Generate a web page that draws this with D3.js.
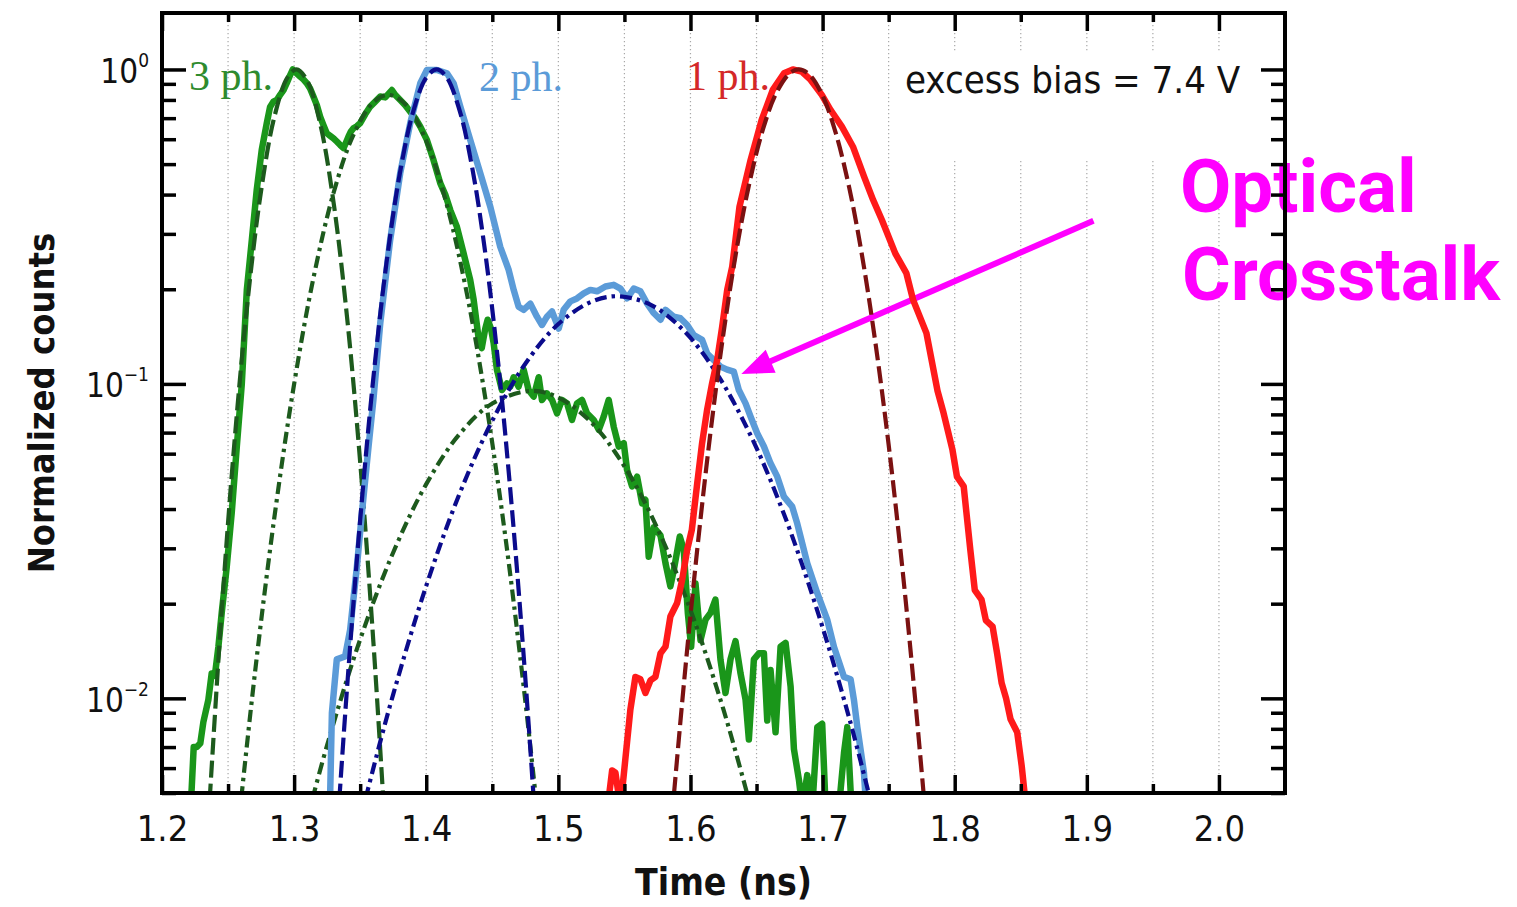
<!DOCTYPE html>
<html>
<head>
<meta charset="utf-8">
<script src="https://cdn.jsdelivr.net/npm/d3@7"></script>
<style>
  html, body { margin: 0; padding: 0; background: #fff; }
  svg { display: block; }
  .cond { font-family: "DejaVu Sans Condensed", "DejaVu Sans", sans-serif; font-stretch: condensed; }
</style>
</head>
<body>
<svg id="chart" width="1517" height="907"></svg>
<script>
// ---- time axis ticks (ns) ----
const xMajorTicks = [1.2, 1.3, 1.4, 1.5, 1.6, 1.7, 1.8, 1.9, 2.0];
const xTickLabels = ["1.2", "1.3", "1.4", "1.5", "1.6", "1.7", "1.8", "1.9", "2.0"];
const xMinorTicks = [1.25, 1.35, 1.45, 1.55, 1.65, 1.75, 1.85, 1.95];
const gridTimes = [1.25, 1.3, 1.35, 1.4, 1.45, 1.5, 1.55, 1.6, 1.65, 1.7, 1.75, 1.8, 1.85, 1.9, 1.95, 2.0];

// ---- normalized-counts axis ticks (log) ----
const yMajorTicks = [0.01, 0.1, 1];
const yTickExponents = ["\u22122", "\u22121", "0"];
const yMinorTicks = [0.005, 0.006, 0.007, 0.008, 0.009,
                     0.02, 0.03, 0.04, 0.05, 0.06, 0.07, 0.08, 0.09,
                     0.2, 0.3, 0.4, 0.5, 0.6, 0.7, 0.8, 0.9];

// ---- measured histograms [time ns, normalized counts] ----
const threePhData = [
  [1.2210,0.0040],[1.2225,0.0052],[1.2240,0.0070],[1.2263,0.0070],[1.2290,0.0072],[1.2313,0.0084],
  [1.2351,0.0099],[1.2376,0.0120],[1.2400,0.0118],[1.2427,0.0146],[1.2452,0.0187],[1.2490,0.0262],
  [1.2528,0.039],[1.2566,0.063],[1.2604,0.100],[1.2642,0.199],[1.2680,0.287],[1.2717,0.414],
  [1.2755,0.555],[1.2793,0.675],[1.2818,0.76],[1.2843,0.79],[1.2869,0.80],[1.2894,0.83],
  [1.2920,0.86],[1.2944,0.904],[1.2970,0.96],[1.2990,1.0],[1.3020,0.97],[1.3045,0.95],
  [1.3070,0.93],[1.3096,0.904],[1.3121,0.87],[1.3146,0.82],[1.3172,0.77],[1.3197,0.708],
  [1.3222,0.665],[1.3247,0.627],[1.3273,0.615],[1.3298,0.604],[1.3323,0.590],[1.3349,0.575],
  [1.3374,0.562],[1.3392,0.585],[1.3411,0.611],[1.3430,0.635],[1.3449,0.650],[1.3475,0.660],
  [1.3500,0.675],[1.3538,0.72],[1.3576,0.762],[1.3614,0.79],[1.3652,0.82],[1.3690,0.815],
  [1.3740,0.86],[1.3765,0.83],[1.3803,0.80],[1.3841,0.77],[1.3879,0.734],[1.3917,0.70],
  [1.3955,0.658],[1.4005,0.597],[1.4055,0.515],[1.4106,0.435],[1.4144,0.40],[1.4182,0.357],
  [1.4232,0.316],[1.4283,0.260],[1.4333,0.214],[1.4359,0.185],[1.4396,0.140],[1.4420,0.130],
  [1.4447,0.150],[1.4465,0.160],[1.4490,0.150],[1.4510,0.135],[1.4535,0.111],[1.4573,0.0956],
  [1.4611,0.1004],[1.4636,0.098],[1.4662,0.105],[1.4699,0.098],[1.4737,0.111],[1.4775,0.0956],
  [1.4813,0.0911],[1.4851,0.105],[1.4876,0.0889],[1.4914,0.0933],[1.4952,0.0889],[1.4990,0.0806],
  [1.5028,0.0889],[1.5066,0.0867],[1.5103,0.0768],[1.5141,0.0867],[1.5179,0.0889],[1.5217,0.0806],
  [1.5268,0.0768],[1.5306,0.0714],[1.5343,0.0787],[1.5381,0.0889],[1.5419,0.0731],[1.5457,0.0632],
  [1.5495,0.0648],[1.5520,0.0533],[1.5558,0.0472],[1.5596,0.0507],[1.5634,0.0417],[1.5659,0.0428],
  [1.5684,0.0282],[1.5722,0.0350],[1.5773,0.0330],[1.5811,0.0269],[1.5848,0.0227],[1.5874,0.0256],
  [1.5919,0.0327],[1.5949,0.0297],[1.5980,0.0187],[1.6005,0.0146],[1.6038,0.0232],[1.6076,0.0153],
  [1.6114,0.0178],[1.6152,0.0187],[1.6189,0.0206],[1.6227,0.0133],[1.6265,0.0104],[1.6303,0.0133],
  [1.6341,0.0152],[1.6379,0.0120],[1.6417,0.0099],[1.6442,0.0074],[1.6480,0.0133],[1.6518,0.0139],
  [1.6556,0.0139],[1.6581,0.0085],[1.6606,0.0123],[1.6644,0.0078],[1.6682,0.0146],[1.6720,0.0150],
  [1.6758,0.0109],[1.6783,0.0069],[1.6821,0.0055],[1.6846,0.0045],[1.6884,0.0057],[1.6922,0.0045],
  [1.6960,0.0081],[1.6997,0.0083],[1.7023,0.0045],[1.7124,0.0045],[1.7162,0.0067],[1.7187,0.0081],
  [1.7225,0.0040]
];

const twoPhData = [
  [1.3260,0.0040],[1.3273,0.0050],[1.3286,0.0090],[1.3323,0.0133],[1.3386,0.0136],[1.3424,0.0165],
  [1.3475,0.0262],[1.3513,0.0388],[1.3563,0.063],[1.3600,0.089],[1.3652,0.156],[1.3727,0.287],
  [1.3803,0.468],[1.3879,0.675],[1.3955,0.904],[1.4005,0.996],[1.4081,0.996],[1.4157,0.972],
  [1.4207,0.904],[1.4258,0.762],[1.4333,0.597],[1.4409,0.468],[1.4485,0.366],[1.4560,0.273],
  [1.4624,0.2304],[1.4662,0.199],[1.4699,0.176],[1.4737,0.172],[1.4788,0.180],[1.4838,0.1636],
  [1.4876,0.154],[1.4914,0.1636],[1.4952,0.170],[1.5003,0.150],[1.5040,0.172],[1.5091,0.183],
  [1.5141,0.187],[1.5192,0.194],[1.5242,0.199],[1.5293,0.197],[1.5356,0.204],[1.5419,0.2066],
  [1.5470,0.201],[1.5520,0.187],[1.5571,0.201],[1.5621,0.197],[1.5672,0.180],[1.5722,0.168],
  [1.5773,0.160],[1.5811,0.172],[1.5874,0.1636],[1.5924,0.1617],[1.5975,0.154],[1.6025,0.143],
  [1.6088,0.138],[1.6126,0.125],[1.6177,0.119],[1.6227,0.1135],[1.6278,0.111],[1.6328,0.1094],
  [1.6366,0.0956],[1.6417,0.0867],[1.6455,0.0787],[1.6505,0.0697],[1.6556,0.0632],[1.6606,0.0559],
  [1.6657,0.0507],[1.6707,0.0438],[1.6770,0.0407],[1.6808,0.036],[1.6833,0.0327],[1.6884,0.0269],
  [1.6960,0.0216],[1.7035,0.0178],[1.7086,0.0146],[1.7162,0.0117],[1.7212,0.0115],[1.7237,0.0099],
  [1.7263,0.0081],[1.7313,0.0058],[1.7338,0.0040]
];

const onePhData = [
  [1.5370,0.0040],[1.5381,0.0048],[1.5407,0.0059],[1.5432,0.0058],[1.5470,0.0045],[1.5507,0.0064],
  [1.5545,0.0092],[1.5583,0.0117],[1.5621,0.0115],[1.5659,0.0104],[1.5697,0.0114],[1.5735,0.0117],
  [1.5773,0.0139],[1.5811,0.0146],[1.5848,0.0182],[1.5899,0.0201],[1.5937,0.0238],[1.5975,0.0297],
  [1.6010,0.0343],[1.6051,0.0483],[1.6088,0.0648],[1.6126,0.0827],[1.6164,0.1005],[1.6202,0.119],
  [1.6240,0.152],[1.6278,0.199],[1.6316,0.236],[1.6371,0.366],[1.6455,0.515],[1.6539,0.691],
  [1.6623,0.861],[1.6708,0.972],[1.6775,1.0],[1.6842,0.984],[1.6910,0.926],[1.6994,0.83],
  [1.7061,0.743],[1.7146,0.658],[1.7230,0.568],[1.7314,0.456],[1.7382,0.385],[1.7449,0.332],
  [1.7550,0.260],[1.7634,0.225],[1.7685,0.185],[1.7786,0.145],[1.7870,0.095],[1.7916,0.0807],
  [1.7983,0.0617],[1.8017,0.0507],[1.8068,0.0472],[1.8118,0.0297],[1.8152,0.0221],[1.8203,0.0206],
  [1.8236,0.0177],[1.8287,0.0169],[1.8321,0.0139],[1.8355,0.0112],[1.8389,0.0100],[1.8422,0.0086],
  [1.8473,0.0078],[1.8507,0.0061],[1.8540,0.0045],[1.8560,0.0040]
];

// ---- Gaussian fit curves, sampled [time ns, normalized counts] ----
const fitThreeFirst = [
  [1.235,0.0040],[1.245,0.0185],[1.255,0.0665],[1.265,0.187],[1.275,0.411],[1.285,0.705],
  [1.295,0.944],[1.3018,1.0],[1.31,0.920],[1.32,0.664],[1.33,0.374],[1.34,0.164],
  [1.35,0.0564],[1.36,0.0151],[1.3686,0.0040]
];
const fitThreeSecond = [
  [1.258,0.0040],[1.27,0.0117],[1.285,0.0375],[1.30,0.0999],[1.315,0.221],[1.33,0.407],
  [1.345,0.621],[1.36,0.786],[1.3715,0.83],[1.385,0.770],[1.40,0.593],[1.415,0.379],
  [1.43,0.201],[1.445,0.0886],[1.46,0.0324],[1.475,0.0098],[1.485,0.0040]
];
const fitThreeCrosstalk = [
  [1.309,0.0040],[1.325,0.0071],[1.35,0.0154],[1.375,0.0291],[1.40,0.048],[1.425,0.0691],
  [1.45,0.0866],[1.479,0.095],[1.50,0.0905],[1.525,0.0754],[1.55,0.0547],[1.575,0.0347],
  [1.60,0.0191],[1.625,0.0092],[1.649,0.0040]
];
const fitTwoMain = [
  [1.333,0.0040],[1.34,0.0107],[1.35,0.0369],[1.36,0.1047],[1.37,0.244],[1.38,0.466],
  [1.39,0.731],[1.40,0.942],[1.4078,1.0],[1.415,0.950],[1.425,0.747],[1.435,0.482],
  [1.445,0.255],[1.455,0.111],[1.465,0.0395],[1.475,0.0116],[1.4826,0.0040]
];
const fitTwoCrosstalk = [
  [1.3494,0.0040],[1.36,0.0060],[1.375,0.0103],[1.40,0.0228],[1.425,0.0445],[1.45,0.0764],
  [1.475,0.1159],[1.50,0.155],[1.525,0.1825],[1.545,0.19],[1.57,0.1784],[1.595,0.1477],
  [1.62,0.1077],[1.645,0.0693],[1.67,0.0393],[1.695,0.0196],[1.72,0.0087],[1.7406,0.0040]
];
const fitOneMain = [
  [1.586,0.0042],[1.595,0.0111],[1.605,0.0294],[1.615,0.0693],[1.625,0.145],[1.635,0.269],
  [1.645,0.443],[1.655,0.648],[1.665,0.842],[1.675,0.971],[1.682,1.0],[1.690,0.963],
  [1.700,0.825],[1.710,0.627],[1.720,0.424],[1.730,0.254],[1.740,0.135],[1.750,0.064],
  [1.760,0.0269],[1.770,0.0100],[1.778,0.0042]
];

// ---- layout ----
const plot = { left: 162, right: 1285, top: 13, bottom: 793 };
const condFont = '"DejaVu Sans Condensed", "DejaVu Sans", sans-serif';

const svg = d3.select("#chart");
const x = d3.scaleLinear().domain([1.2, 2.05]).range([plot.left, plot.right]);
const y = d3.scaleLog().domain([0.005, 1.512]).range([plot.bottom, plot.top]);

svg.append("rect").attr("width", 1517).attr("height", 907).attr("fill", "#fff");

svg.append("defs").append("clipPath").attr("id", "plot-clip")
  .append("rect")
  .attr("x", plot.left).attr("y", plot.top)
  .attr("width", plot.right - plot.left).attr("height", plot.bottom - plot.top);

// dotted vertical grid
svg.append("g").selectAll("line").data(gridTimes).join("line")
  .attr("x1", d => x(d)).attr("x2", d => x(d))
  .attr("y1", plot.top).attr("y2", plot.bottom)
  .attr("stroke", "#a8a8a8").attr("stroke-width", 1.2)
  .attr("stroke-dasharray", "1.3,2.7");

// white panel behind the bias note
svg.append("rect").attr("x", 893).attr("y", 53).attr("width", 364).attr("height", 108).attr("fill", "#fff");

// ---- annotation: optical crosstalk ----
const magenta = "#ff00ff";
const ann = svg.append("g");
ann.append("text").attr("x", 1180).attr("y", 211.5)
  .attr("font-family", "Roboto, sans-serif").attr("font-weight", 700)
  .attr("font-size", 74.5).attr("fill", magenta).text("Optical");
ann.append("text").attr("x", 1182).attr("y", 300)
  .attr("font-family", "Roboto, sans-serif").attr("font-weight", 700)
  .attr("font-size", 74.5).attr("fill", magenta).text("Crosstalk");

// arrow from the label down to the crosstalk shoulder of the 2 ph. trace
const tail = [x(1.905), y(0.33)];
const tip = [x(1.6385), y(0.1075)];
const dx = tail[0] - tip[0], dy = tail[1] - tip[1];
const len = Math.hypot(dx, dy);
const ux = dx / len, uy = dy / len;
const headLen = 32, headHalf = 12.5;
const base = [tip[0] + ux * headLen, tip[1] + uy * headLen];
ann.append("line")
  .attr("x1", tail[0]).attr("y1", tail[1])
  .attr("x2", base[0] - ux * 2).attr("y2", base[1] - uy * 2)
  .attr("stroke", magenta).attr("stroke-width", 6);
ann.append("path")
  .attr("d", `M${tip[0]},${tip[1]}L${base[0] - uy * headHalf},${base[1] + ux * headHalf}L${base[0] + uy * headHalf},${base[1] - ux * headHalf}Z`)
  .attr("fill", magenta);

// ---- curves ----
const dataLine = d3.line().x(d => x(d[0])).y(d => y(d[1]));
const fitLine = d3.line().x(d => x(d[0])).y(d => y(d[1])).curve(d3.curveCatmullRom.alpha(0.5));
const curves = svg.append("g").attr("clip-path", "url(#plot-clip)");

const DASH = "17,6";
const DASHDOT = "12,5,3.5,5";

const series = [
  { pts: threePhData,       fn: dataLine, color: "#1a961a", w: 6.5, dash: null },
  { pts: fitThreeFirst,     fn: fitLine,  color: "#1d5a1d", w: 4.2, dash: DASH },
  { pts: fitThreeSecond,    fn: fitLine,  color: "#1d5a1d", w: 4.2, dash: DASHDOT },
  { pts: fitThreeCrosstalk, fn: fitLine,  color: "#1d5a1d", w: 4.2, dash: DASHDOT },
  { pts: twoPhData,         fn: dataLine, color: "#5b9bd8", w: 6.5, dash: null },
  { pts: fitTwoMain,        fn: fitLine,  color: "#0b0b8c", w: 4.2, dash: DASH },
  { pts: fitTwoCrosstalk,   fn: fitLine,  color: "#0b0b8c", w: 4.2, dash: DASHDOT },
  { pts: onePhData,         fn: dataLine, color: "#ff1a1a", w: 6.5, dash: null },
  { pts: fitOneMain,        fn: fitLine,  color: "#7b1111", w: 4.2, dash: DASH }
];
series.forEach(s => {
  curves.append("path")
    .attr("d", s.fn(s.pts))
    .attr("fill", "none")
    .attr("stroke", s.color)
    .attr("stroke-width", s.w)
    .attr("stroke-linejoin", "round")
    .attr("stroke-dasharray", s.dash);
});

// ---- in-plot labels ----
const serif = '"Liberation Serif", "Times New Roman", serif';
svg.append("text").attr("x", 189).attr("y", 90).attr("font-family", serif)
  .attr("font-size", 42).attr("fill", "#2e8b2e").text("3 ph.");
svg.append("text").attr("x", 479).attr("y", 91).attr("font-family", serif)
  .attr("font-size", 42).attr("fill", "#5b9bd8").text("2 ph.");
svg.append("text").attr("x", 686).attr("y", 90).attr("font-family", serif)
  .attr("font-size", 42).attr("fill", "#d42828").text("1 ph.");
svg.append("text").attr("class", "cond").attr("x", 905).attr("y", 93)
  .attr("font-size", 38).attr("fill", "#111").text("excess bias = 7.4 V");

// ---- axes ----
function styleAxis(g) {
  g.select(".domain").remove();
  g.selectAll(".tick line").attr("stroke", "#000").attr("stroke-width", 3.5);
}

const xb = svg.append("g").attr("transform", `translate(0,${plot.bottom})`)
  .call(d3.axisBottom(x).tickValues(xMajorTicks).tickSizeInner(-18).tickSizeOuter(0)
        .tickFormat((d, i) => xTickLabels[i]))
  .call(styleAxis);
xb.selectAll(".tick text")
  .attr("y", 48).attr("dy", null)
  .attr("class", "cond").attr("font-family", condFont)
  .attr("font-size", 36).attr("fill", "#111");

svg.append("g").attr("transform", `translate(0,${plot.bottom})`)
  .call(d3.axisBottom(x).tickValues(xMinorTicks).tickSizeInner(-9).tickSizeOuter(0).tickFormat(""))
  .call(styleAxis);
svg.append("g").attr("transform", `translate(0,${plot.top})`)
  .call(d3.axisTop(x).tickValues(xMajorTicks).tickSizeInner(-18).tickSizeOuter(0).tickFormat(""))
  .call(styleAxis);
svg.append("g").attr("transform", `translate(0,${plot.top})`)
  .call(d3.axisTop(x).tickValues(xMinorTicks).tickSizeInner(-9).tickSizeOuter(0).tickFormat(""))
  .call(styleAxis);

const yl = svg.append("g").attr("transform", `translate(${plot.left},0)`)
  .call(d3.axisLeft(y).tickValues(yMajorTicks).tickSizeInner(-24).tickSizeOuter(0).tickFormat(""))
  .call(styleAxis);
yl.selectAll(".tick text").each(function (d, i) {
  const t = d3.select(this)
    .attr("x", -13).attr("y", 13).attr("dy", null)
    .attr("text-anchor", "end")
    .attr("class", "cond").attr("font-family", condFont)
    .attr("font-size", 33).attr("fill", "#111");
  t.text(null);
  t.append("tspan").text("10");
  t.append("tspan").attr("dy", -16).attr("font-size", 19).text(yTickExponents[i]);
});
svg.append("g").attr("transform", `translate(${plot.left},0)`)
  .call(d3.axisLeft(y).tickValues(yMinorTicks).tickSizeInner(-14).tickSizeOuter(0).tickFormat(""))
  .call(styleAxis);
svg.append("g").attr("transform", `translate(${plot.right},0)`)
  .call(d3.axisRight(y).tickValues(yMajorTicks).tickSizeInner(-24).tickSizeOuter(0).tickFormat(""))
  .call(styleAxis);
svg.append("g").attr("transform", `translate(${plot.right},0)`)
  .call(d3.axisRight(y).tickValues(yMinorTicks).tickSizeInner(-14).tickSizeOuter(0).tickFormat(""))
  .call(styleAxis);

// frame
svg.append("rect")
  .attr("x", plot.left).attr("y", plot.top)
  .attr("width", plot.right - plot.left).attr("height", plot.bottom - plot.top)
  .attr("fill", "none").attr("stroke", "#000").attr("stroke-width", 4);

// axis titles
svg.append("text").attr("class", "cond")
  .attr("x", (plot.left + plot.right) / 2).attr("y", 895)
  .attr("text-anchor", "middle").attr("font-weight", "bold")
  .attr("font-size", 37).attr("fill", "#111").text("Time (ns)");
svg.append("text").attr("class", "cond")
  .attr("transform", `translate(54,${(plot.top + plot.bottom) / 2}) rotate(-90)`)
  .attr("text-anchor", "middle").attr("font-weight", "bold")
  .attr("font-size", 36).attr("fill", "#111").text("Normalized counts");
</script>
</body>
</html>
